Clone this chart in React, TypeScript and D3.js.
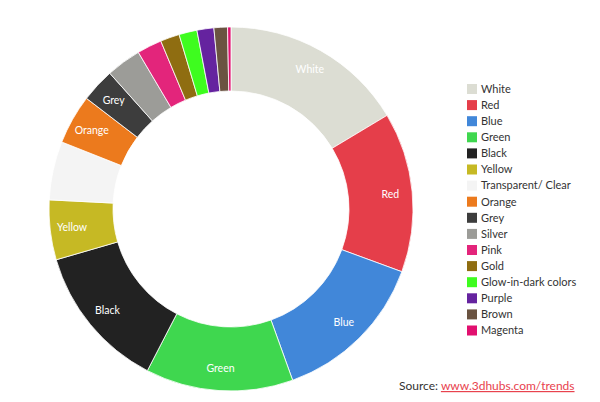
import React from "react";
import * as d3 from "d3";

const categories = [
  "White", "Red", "Blue", "Green", "Black", "Yellow", "Transparent/ Clear",
  "Orange", "Grey", "Silver", "Pink", "Gold", "Glow-in-dark colors",
  "Purple", "Brown", "Magenta",
];
const values = [16.4, 14.2, 13.9, 13.1, 12.9, 5.3, 5.2, 4.4, 3.0, 3.1, 2.2, 1.7, 1.6, 1.5, 1.2, 0.3];
const colors = [
  "#dcddd3", "#e53e4a", "#4187d9", "#3fd74f", "#222222", "#c6b924", "#f4f4f4",
  "#ec7a1d", "#3d3d3d", "#9c9c98", "#e3257b", "#8f6d11", "#3efc1f",
  "#65239f", "#6a5341", "#e1106f",
];
const labelled = ["White", "Red", "Blue", "Green", "Black", "Yellow", "Orange", "Grey"];

const W = 600;
const H = 402;
const cx = 231;
const cy = 209;
const rOuter = 182;
const rInner = 118;
const rLabel = 160;

export default function App() {
  const pie = d3.pie<number>().sort(null).value((d) => d)(values);
  const arc = d3.arc<d3.PieArcDatum<number>>().innerRadius(rInner).outerRadius(rOuter);
  const labelArc = d3.arc<d3.PieArcDatum<number>>().innerRadius(rLabel).outerRadius(rLabel);
  const font = "Lato, 'Open Sans', sans-serif";

  return (
    <svg width={W} height={H} style={{ position: "absolute", left: 0, top: 0, background: "#fff" }}>
      <rect width={W} height={H} fill="#fff" />
      <g transform={`translate(${cx},${cy})`}>
        {pie.map((p, i) => (
          <path key={i} d={arc(p) || ""} fill={colors[i]} stroke="#ffffff" strokeWidth={0.8} />
        ))}
        {pie.map((p, i) => {
          if (!labelled.includes(categories[i])) return null;
          const [x, y] = labelArc.centroid(p);
          return (
            <text key={"l" + i} x={x} y={y} dy="0.35em" textAnchor="middle"
              fill="#ffffff" fontFamily={font} fontSize={10.5}>
              {categories[i]}
            </text>
          );
        })}
      </g>
      <g transform="translate(467,84)">
        {categories.map((c, i) => (
          <g key={c} transform={`translate(0,${i * 16.1})`}>
            <rect width={10} height={10} fill={colors[i]} />
            <text x={14} y={5} dy="0.35em" fontFamily={font} fontSize={11} fill="#333">
              {c}
            </text>
          </g>
        ))}
      </g>
      <text x={399} y={390} fontFamily={font} fontSize={12} fill="#333">
        Source:{" "}
        <tspan fill="#e8424e" textDecoration="underline">www.3dhubs.com/trends</tspan>
      </text>
    </svg>
  );
}
